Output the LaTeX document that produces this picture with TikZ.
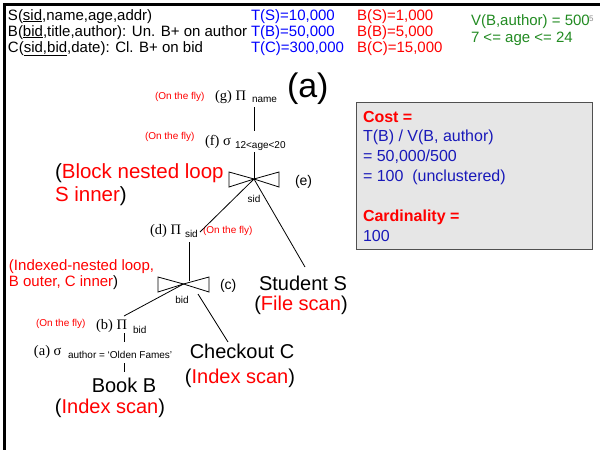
\documentclass[tikz,border=0pt]{standalone}
\usepackage{fontspec}
\setmainfont{Liberation Sans}
\newfontfamily\serifgr{Liberation Serif}
\newcommand\myfs[1]{\fontsize{#1}{#1}\selectfont}
\definecolor{tblue}{RGB}{0,0,255}
\definecolor{tred}{RGB}{255,0,0}
\definecolor{tgreen}{RGB}{34,139,34}
\definecolor{bblue}{RGB}{25,25,185}
\definecolor{bfill}{RGB}{230,230,230}
\definecolor{bline}{RGB}{80,80,80}
\tikzset{
  lbl/.style={inner sep=0pt, outer sep=0pt, anchor=base west},
  clbl/.style={inner sep=0pt, outer sep=0pt, anchor=base},
  fly/.style={lbl, font=\myfs{10}, text=tred},
  op/.style={lbl, font=\serifgr\myfs{14.5}},
  sub/.style={lbl, font=\myfs{10}},
  hdr/.style={lbl, font=\myfs{15}},
  tag/.style={lbl, font=\myfs{14}},
  big/.style={clbl, font=\myfs{20}},
  boxtxt/.style={lbl, font=\myfs{16}, text=bblue},
  edge/.style={line width=0.8pt},
  costbox/.style={draw=bline, fill=bfill, line width=1.2pt, inner sep=0pt, anchor=north west}
}
\begin{document}
\begin{tikzpicture}[x=1pt,y=-1pt]
\useasboundingbox (0,0) rectangle (600,450);
\fill[white] (0,0) rectangle (600,450);
\draw[line width=3pt] (4,450) -- (4,4) -- (600,4);

% header
\node[hdr] (rs) at (8,20) {S(\underline{sid},name,age,addr)};
\node[hdr] (rb) at (8,36) {B(\underline{bid},title,author): Un. B+ on author};
\node[hdr] (rc) at (8,52) {C(\underline{sid,bid},date): Cl. B+ on bid};
\node[hdr, text=tblue] (ts) at (251,20) {T(S)=10,000};
\node[hdr, text=tblue] (tb) at (251,36) {T(B)=50,000};
\node[hdr, text=tblue] (tc) at (251,52) {T(C)=300,000};
\node[hdr, text=tred] (bs) at (357,20) {B(S)=1,000};
\node[hdr, text=tred] (bb) at (357,36) {B(B)=5,000};
\node[hdr, text=tred] (bc) at (357,52) {B(C)=15,000};
\node[hdr, text=tgreen] (vb) at (471,25) {V(B,author) = 500};
\node[hdr, text=tgreen] (age) at (471,42) {7 <= age <= 24};
\node[lbl, font=\myfs{8}, text=black!45] (pg) at (589,21) {5};

% (a) label
\node[lbl, font=\myfs{34}] (biga) at (287,97) {(a)};

% g
\node[fly] (gfly) at (155,99) {(On the fly)};
\node[op] (g) at (215,100) {(g) Π};
\node[sub] (gs) at (252,102) {name};
% f
\node[fly] (ffly) at (145,139) {(On the fly)};
\node[op] (f) at (205,145) {(f) σ};
\node[sub] (fs) at (235,148) {12<age<20};
\coordinate (gbot) at (254,107);
\coordinate (ftop) at (254,131);
\coordinate (fbot) at (254,152);
\draw[edge] (gbot) -- (ftop);

% join e
\coordinate (e) at (254,179);
\draw[edge] (e) -- (229,172) -- (229,187) -- cycle;
\draw[edge] (e) -- (279,172) -- (279,187) -- cycle;
\draw[edge] (fbot) -- (e);
\node[clbl, font=\myfs{10}] (esid) at (254,202) {sid};
\node[tag] (elab) at (295,185) {(e)};
\node[lbl, font=\myfs{20.5}] (bnl1) at (55,178) {(\textcolor{tred}{Block nested loop}};
\node[lbl, font=\myfs{20.5}] (bnl2) at (55,201) {\textcolor{tred}{S inner})};

% Student S
\node[big, text depth=0pt] (stu) at (303,290) {Student S};
\node[big, text height=13pt] (stuscan) at (301,310.5) {(\textcolor{tred}{File scan})};
\coordinate (stutop) at (305,267);
\draw[edge] (e) -- (stutop);

% d
\node[op] (d) at (150,234) {(d) Π};
\node[sub] (ds) at (185,237) {sid};
\node[fly] (dfly) at (203,233) {(On the fly)};
\coordinate (dtop) at (200,232);
\draw[edge] (e) -- (dtop);
\coordinate (dbot) at (189,242);

% join c
\coordinate (c) at (183.5,284);
\draw[edge] (c) -- (158,277) -- (158,292) -- cycle;
\draw[edge] (c) -- (209,277) -- (209,292) -- cycle;
\coordinate (ctop) at (189,281);
\draw[edge] (dbot) -- (ctop);
\node[clbl, font=\myfs{10}] (cbid) at (182,303) {bid};
\node[tag] (clab) at (220,289) {(c)};
\node[lbl, font=\myfs{15}, text=tred] (inl1) at (9,270) {(Indexed-nested loop,};
\node[lbl, font=\myfs{15}] (inl2) at (9,286) {\textcolor{tred}{B outer, C inner})};

% b
\node[fly] (bfly) at (36,326) {(On the fly)};
\node[op] (b) at (96,329) {(b) Π};
\node[sub] (bsub) at (133,333) {bid};
\coordinate (btop) at (124,316);
\draw[edge] (c) -- (btop);
\coordinate (bbot) at (124,333);
\coordinate (atop) at (124,342);
\draw[edge] (bbot) -- (atop);

% a
\node[op] (a) at (34,355) {(a) σ};
\node[sub] (asub) at (68,358) {author = `Olden Fames'};
\coordinate (abot) at (124,363);
\coordinate (booktop) at (124,372);
\draw[edge] (abot) -- (booktop);

% Book B
\node[big] (book) at (124,392) {Book B};
\node[big] (bookscan) at (110,413) {(\textcolor{tred}{Index scan})};

% Checkout C
\coordinate (cright) at (198,294);
\coordinate (chktop) at (228,342);
\draw[edge] (cright) -- (chktop);
\node[big] (chk) at (242,358) {Checkout C};
\node[big] (chkscan) at (240,383) {(\textcolor{tred}{Index scan})};

% cost box
\node[costbox, minimum width=236pt, minimum height=147pt] (cost) at (356,102) {};
\node[boxtxt, text=tred, font=\myfs{16}\bfseries] (c1) at (363,122) {Cost =};
\node[boxtxt] (c2) at (363,141) {T(B) / V(B, author)};
\node[boxtxt] (c3) at (363,161) {= 50,000/500};
\node[boxtxt] (c4) at (363,181) {= 100\ \ (unclustered)};
\node[boxtxt, text=tred, font=\myfs{16}\bfseries] (c5) at (363,221) {Cardinality =};
\node[boxtxt] (c6) at (363,241) {100};
\end{tikzpicture}
\end{document}
